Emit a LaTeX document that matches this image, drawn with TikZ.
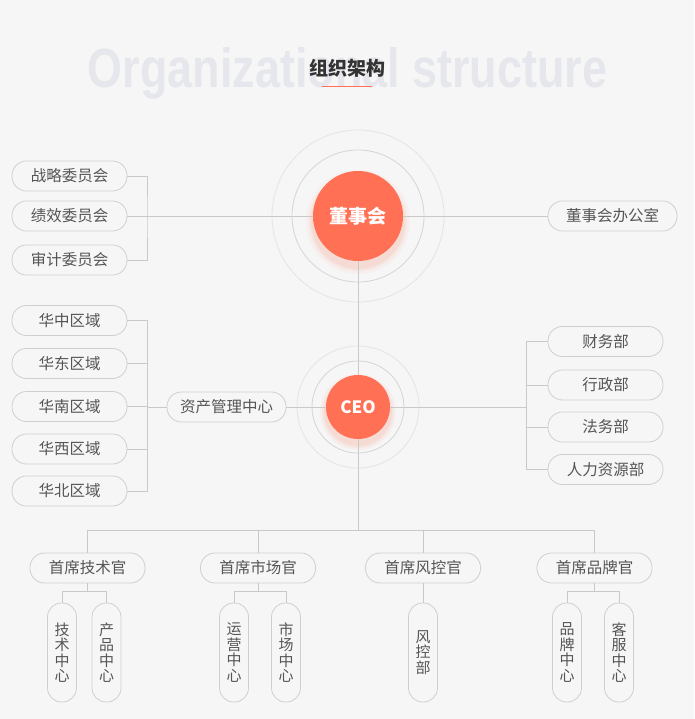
\documentclass[tikz,border=0pt]{standalone}
\usepackage{fontspec}
\usepackage{graphicx}
\usepackage[HTML]{xcolor}
\usepackage{tikz}
\usetikzlibrary{positioning}
\setmainfont{Noto Sans CJK SC}
\newfontfamily\wmfont{Liberation Sans}
\definecolor{bgcol}{HTML}{F6F6F6}
\definecolor{hubcol}{HTML}{FF7055}
\definecolor{linecol}{HTML}{C9C9C9}
\definecolor{pillcol}{HTML}{CFCFCF}
\definecolor{ringin}{HTML}{D4D4D4}
\definecolor{ringout}{HTML}{E4E4E4}
\definecolor{txtcol}{HTML}{555555}
\definecolor{titlecol}{HTML}{333333}
\definecolor{wmcol}{HTML}{E6E7EC}

\begin{document}
\begin{tikzpicture}[x=1pt,y=-1pt,
  link/.style={draw=linecol, line width=0.8pt},
  pill/.style={draw=pillcol, line width=0.8pt, fill=bgcol, rounded corners=14.5pt, minimum width=115pt, minimum height=30pt, inner sep=0pt, text=txtcol, font=\fontsize{15.5}{18}\selectfont},
  vpill/.style={pill, rounded corners=14pt, minimum width=29pt, minimum height=99pt, align=center, font=\fontsize{15}{15.5}\selectfont},
  hub/.style={circle, fill=hubcol, text=white, inner sep=0pt},
  ring/.style={line width=0.8pt}]
\fill[bgcol] (0,0) rectangle (694,719);
\useasboundingbox (0,0) rectangle (694,719);
\node[anchor=base, text=wmcol, inner sep=0pt] (wm) at (347.5,88) {\resizebox{519pt}{40pt}{\wmfont\bfseries Organizational structure}};
\node[text=titlecol, font=\fontsize{19}{20}\selectfont\bfseries] (title) at (347,68) {组织架构};
\draw[hubcol, line width=1pt] (322,87) -- (372,87);
\draw[ring, draw=ringout] (358,216) circle (86pt);
\draw[ring, draw=ringin] (358,216) circle (66pt);
\draw[ring, draw=ringout] (358,407) circle (61pt);
\draw[ring, draw=ringin] (358,407) circle (46pt);
\foreach \r/\o in {52/0.05,49/0.07,47/0.09} \fill[hubcol, opacity=\o] (358,222) circle (\r pt);
\foreach \r/\o in {38/0.05,36/0.07,34/0.09} \fill[hubcol, opacity=\o] (358,412) circle (\r pt);
\node[hub, minimum size=90pt, font=\fontsize{19}{20}\selectfont\bfseries] (board) at (358,216) {董事会};
\node[hub, minimum size=64pt, font=\fontsize{17}{18}\selectfont\bfseries] (ceo) at (358,407) {CEO};
\node[pill] (c1) at (69.5,176) {战略委员会};
\node[pill] (c2) at (69.5,216) {绩效委员会};
\node[pill] (c3) at (69.5,260) {审计委员会};
\node[pill, minimum width=129pt] (office) at (612.5,216) {董事会办公室};
\foreach \n/\y/\t in {r1/320.5/华中区域, r2/363.5/华东区域, r3/406.5/华南区域, r4/449/华西区域, r5/491/华北区域}
  \node[pill] (\n) at (69.5,\y) {\t};
\node[pill, minimum width=119pt] (asset) at (226.5,407) {资产管理中心};
\foreach \n/\y/\t in {d1/341.5/财务部, d2/385/行政部, d3/427/法务部, d4/469.5/人力资源部}
  \node[pill] (\n) at (605.5,\y) {\t};
\foreach \n/\x/\t in {k1/87.5/首席技术官, k2/258/首席市场官, k3/423/首席风控官, k4/594.5/首席品牌官}
  \node[pill] (\n) at (\x,568) {\t};
\node[vpill] (t1) at (62,652.5) {技\\术\\中\\心};
\node[vpill] (t2) at (106.5,652.5) {产\\品\\中\\心};
\node[vpill] (m1) at (234,652.5) {运\\营\\中\\心};
\node[vpill] (m2) at (286,652.5) {市\\场\\中\\心};
\node[vpill] (f1) at (423,652.5) {风\\控\\部};
\node[vpill] (b1) at (567,652.5) {品\\牌\\中\\心};
\node[vpill] (b2) at (619,652.5) {客\\服\\中\\心};
\coordinate (cjoin) at (147,216);
\coordinate (rjoin) at (147,407);
\coordinate (djoin) at (526,407);
\coordinate (kjoin) at (358,530);
\coordinate (k1j) at (87.5,591);
\coordinate (k2j) at (258,591);
\coordinate (k4j) at (594.5,591);
\draw[link] (c2) -- (board) -- (office);
\draw[link] (c1.east) -| (cjoin) |- (c3.east);
\draw[link] (board) -- (ceo);
\draw[link] (ceo) -- (asset);
\draw[link] (asset.west) -- (rjoin);
\foreach \n in {r1,r2,r3,r4,r5} \draw[link] (\n.east) -| (rjoin);
\draw[link] (ceo) -- (djoin);
\foreach \n in {d1,d2,d3,d4} \draw[link] (\n.west) -| (djoin);
\draw[link] (ceo) -- (kjoin);
\foreach \n in {k1,k2,k3,k4} \draw[link] (kjoin) -| (\n.north);
\draw[link] (k1) -- (k1j);
\draw[link] (k1j) -| (t1.north);
\draw[link] (k1j) -| (t2.north);
\draw[link] (k2) -- (k2j);
\draw[link] (k2j) -| (m1.north);
\draw[link] (k2j) -| (m2.north);
\draw[link] (k3) -- (f1);
\draw[link] (k4) -- (k4j);
\draw[link] (k4j) -| (b1.north);
\draw[link] (k4j) -| (b2.north);
\end{tikzpicture}
\end{document}
